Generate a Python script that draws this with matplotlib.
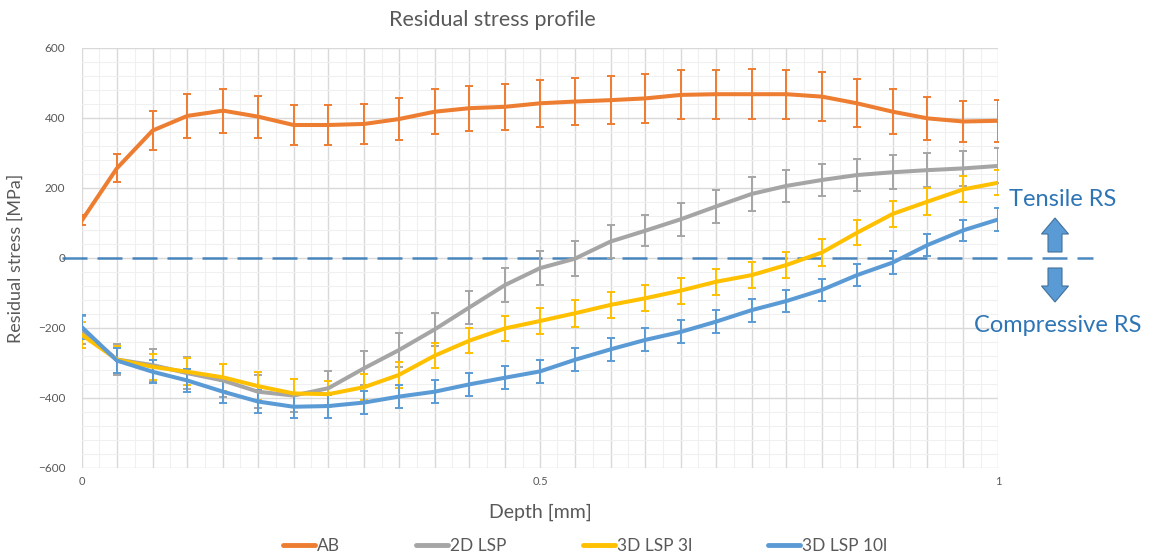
#!/usr/bin/env python3
"""Residual stress profile vs depth, four processing conditions."""
import matplotlib
matplotlib.use("Agg")
import matplotlib.pyplot as plt
from matplotlib.lines import Line2D
from matplotlib.patches import FancyArrow
from matplotlib.ticker import FixedLocator, FuncFormatter, MultipleLocator

depth = [0.0, 0.038, 0.077, 0.115, 0.154, 0.192, 0.231, 0.269, 0.308, 0.346,
         0.385, 0.423, 0.462, 0.5, 0.538, 0.577, 0.615, 0.654, 0.692, 0.731,
         0.769, 0.808, 0.846, 0.885, 0.923, 0.962, 1.0]

ab = [108, 256, 364, 406, 421, 404, 380, 380, 383, 397, 418, 428, 432, 442,
      447, 451, 456, 466, 468, 468, 468, 461, 442, 418, 399, 390, 392]
ab_err = [15, 40, 56, 62, 63, 60, 57, 58, 58, 60, 64, 64, 65, 67, 67, 69,
          70, 70, 70, 72, 70, 70, 68, 64, 62, 59, 60]

lsp2d = [-205, -290, -306, -329, -350, -382, -393, -372, -315, -263, -204,
         -141, -77, -29, -2, 47, 78, 111, 147, 183, 206, 223, 237, 245, 251,
         256, 263]
lsp2d_err = [40, 45, 45, 46, 46, 47, 47, 48, 48, 48, 48, 48, 49, 49, 50, 47,
             45, 47, 48, 48, 46, 47, 46, 48, 48, 51, 50]

lsp3d_3 = [-220, -290, -311, -325, -341, -366, -387, -389, -369, -334, -279,
           -236, -201, -180, -158, -134, -115, -93, -68, -49, -20, 16, 72,
           126, 161, 196, 215]
lsp3d_3_err = [38, 38, 38, 38, 38, 40, 40, 38, 38, 36, 35, 36, 36, 37, 38,
               37, 37, 37, 37, 37, 38, 38, 36, 37, 38, 37, 36]

lsp3d_10 = [-198, -293, -325, -350, -382, -410, -425, -423, -413, -396, -382,
            -361, -342, -324, -291, -261, -234, -211, -182, -149, -123, -91,
            -49, -13, 37, 79, 110]
lsp3d_10_err = [34, 36, 33, 32, 31, 33, 33, 33, 32, 32, 33, 33, 33, 33, 33,
                33, 33, 33, 33, 33, 32, 32, 32, 32, 32, 31, 33]

series = [
    ("AB", ab, ab_err, "#ED7D31"),
    ("2D LSP", lsp2d, lsp2d_err, "#A5A5A5"),
    ("3D LSP 3l", lsp3d_3, lsp3d_3_err, "#FFC000"),
    ("3D LSP 10l", lsp3d_10, lsp3d_10_err, "#5B9BD5"),
]

plt.rcParams["font.family"] = ["Lato", "DejaVu Sans"]
TXT = "#595959"
ACC = "#2E75B6"
W, H = 1151, 559

fig = plt.figure(figsize=(W / 100, H / 100), dpi=100)
ax = fig.add_axes([82 / W, 1 - 468 / H, 916 / W, 420 / H])

for name, ys, err, col in series:
    ax.errorbar(depth, ys, yerr=err, color=col, lw=2.9, elinewidth=1.4,
                capsize=3, capthick=1.4, label=name, zorder=3)

ax.set_xlim(0, 1)
ax.set_ylim(-600, 600)
ax.xaxis.set_major_locator(FixedLocator(depth))
ax.xaxis.set_major_formatter(FuncFormatter(
    lambda v, p: {0.0: "0", 0.5: "0.5", 1.0: "1"}.get(round(v, 3), "")))
ax.set_xticks([(a + b) / 2 for a, b in zip(depth[:-1], depth[1:])], minor=True)
ax.yaxis.set_major_locator(MultipleLocator(200))
ax.yaxis.set_minor_locator(MultipleLocator(40))
ax.grid(which="major", color="#D9D9D9", lw=1.0)
ax.grid(which="minor", color="#F0F0F0", lw=0.8)
ax.set_axisbelow(True)
for s in ax.spines.values():
    s.set_visible(False)
ax.tick_params(which="both", length=0, colors=TXT)
ax.tick_params(axis="y", labelsize=8.5, pad=12)
ax.tick_params(axis="x", labelsize=8, pad=6)

fig.text(492 / W, 1 - 20 / H, "Residual stress profile", fontsize=15.5,
         color=TXT, ha="center", va="center")
ax.set_xlabel("Depth [mm]", fontsize=14, color=TXT, labelpad=12)
ax.set_ylabel("Residual stress [MPa]", fontsize=13, color=TXT, labelpad=10)

# zero line running past the plot towards the annotation
zl = Line2D([-0.022, 1.104], [0.5, 0.5], transform=ax.transAxes, color=ACC,
            lw=1.8, ls=(0, (10, 4)), alpha=0.85, clip_on=False, zorder=2)
ax.add_line(zl)

fig.text(1063 / W, 1 - 200 / H, "Tensile RS", color=ACC, fontsize=17,
         ha="center", va="center")
fig.text(1058 / W, 1 - 325 / H, "Compressive RS", color=ACC, fontsize=17,
         ha="center", va="center")
# block arrows, sized in inches (pixels / 100)
for y0, dy in [((H - 252) / 100, 0.34), ((H - 268) / 100, -0.34)]:
    fig.add_artist(FancyArrow(1055 / 100, y0, 0, dy, width=0.14,
                              head_width=0.27, head_length=0.16,
                              length_includes_head=True,
                              transform=fig.dpi_scale_trans,
                              fc="#5B9BD5", ec="#41719C", lw=0.8))

handles = [Line2D([], [], color=c, lw=3.5, solid_capstyle="round")
           for _, _, _, c in series]
fig.legend(handles, [n for n, _, _, _ in series], loc="center",
           bbox_to_anchor=(585 / W, 1 - 546 / H), ncol=4, frameon=False,
           fontsize=12.5, handlelength=1.85, handletextpad=0.1,
           columnspacing=4.4, labelcolor=TXT, borderpad=0)

fig.savefig("out.png", dpi=100)
print("wrote out.png")
